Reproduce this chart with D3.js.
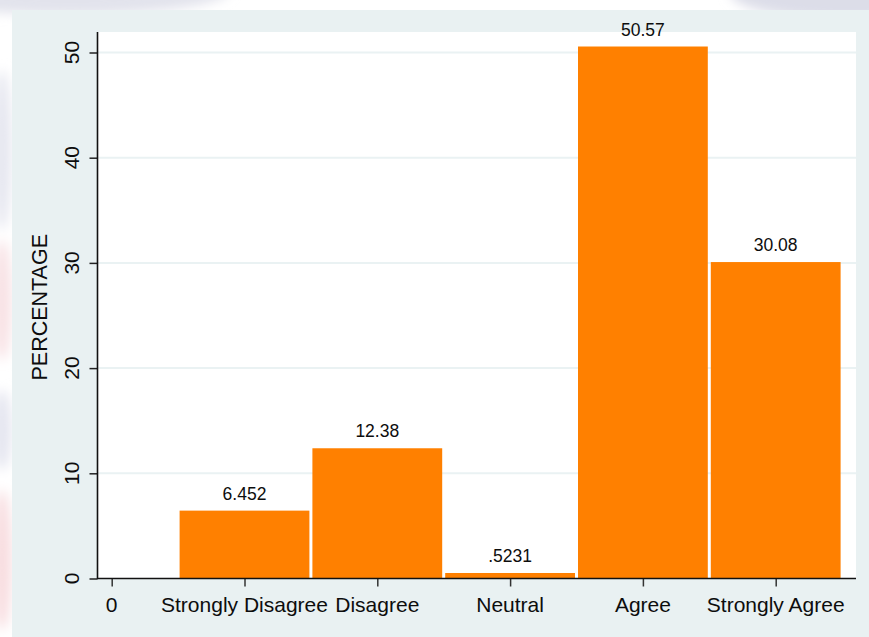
<!DOCTYPE html>
<html>
<head>
<meta charset="utf-8">
<script src="https://cdn.jsdelivr.net/npm/d3@7"></script>
<style>
  html, body { margin: 0; padding: 0; background: #ffffff; }
  svg { display: block; }
  text { font-family: "Liberation Sans", Arial, sans-serif; fill: #0d0d0d; }
</style>
</head>
<body>
<div id="chart"></div>
<script>
// ---- data ----
const categories = ["Strongly Disagree", "Disagree", "Neutral", "Agree", "Strongly Agree"];
const categoryCodes = [1, 2, 3, 4, 5];
const percentages = [6.452, 12.38, 0.5231, 50.57, 30.08];
const barLabels = ["6.452", "12.38", ".5231", "50.57", "30.08"];
const xTickValues = [0, 1, 2, 3, 4, 5];
const xTickLabels = ["0", "Strongly Disagree", "Disagree", "Neutral", "Agree", "Strongly Agree"];
const yTickValues = [0, 10, 20, 30, 40, 50];
const yTitle = "PERCENTAGE";

// ---- layout ----
const W = 869, H = 637;
const plot = { left: 98, right: 856, top: 32, bottom: 578.5 };

const svg = d3.select("#chart").append("svg").attr("width", W).attr("height", H);

const defs = svg.append("defs");
defs.append("filter").attr("id", "soft").attr("x", "-50%").attr("y", "-50%").attr("width", "200%").attr("height", "200%")
  .append("feGaussianBlur").attr("stdDeviation", 6);

// faint watermark in outer margins
const wm = svg.append("g").attr("filter", "url(#soft)");
wm.append("ellipse").attr("cx", 70).attr("cy", -10).attr("rx", 160).attr("ry", 25).attr("fill", "#e2e3ec");
wm.append("ellipse").attr("cx", 850).attr("cy", -8).attr("rx", 120).attr("ry", 28).attr("fill", "#dcdde8");
wm.append("ellipse").attr("cx", 2).attr("cy", 150).attr("rx", 10).attr("ry", 80).attr("fill", "#e6e7f0");
wm.append("ellipse").attr("cx", 2).attr("cy", 300).attr("rx", 10).attr("ry", 60).attr("fill", "#f8e2e5");
wm.append("ellipse").attr("cx", 2).attr("cy", 430).attr("rx", 10).attr("ry", 40).attr("fill", "#e5e6f0");
wm.append("ellipse").attr("cx", 2).attr("cy", 560).attr("rx", 10).attr("ry", 70).attr("fill", "#f8dde0");

// graph region
svg.append("rect").attr("x", 12).attr("y", 10).attr("width", W - 12).attr("height", H - 10).attr("fill", "#e9f1f2");
// plot region
svg.append("rect").attr("x", plot.left).attr("y", plot.top)
  .attr("width", plot.right - plot.left).attr("height", plot.bottom - plot.top).attr("fill", "#ffffff");

const x = d3.scaleLinear().domain([0, 5]).range([111.7, 775.7]);
const y = d3.scaleLinear().domain([0, 50]).range([plot.bottom, 52.5]);

// gridlines
svg.append("g").selectAll("line").data(yTickValues.filter(v => v > 0)).join("line")
  .attr("x1", plot.left).attr("x2", plot.right)
  .attr("y1", d => y(d)).attr("y2", d => y(d))
  .attr("stroke", "#eaf2f3").attr("stroke-width", 2);

// bars
const barData = categoryCodes.map((c, i) => ({ c, v: percentages[i], label: barLabels[i] }));
svg.append("g").selectAll("rect").data(barData).join("rect")
  .attr("x", d => x(d.c - 0.5) + 1.5)
  .attr("width", d => x(d.c + 0.5) - x(d.c - 0.5) - 3)
  .attr("y", d => y(d.v))
  .attr("height", d => y(0) - y(d.v))
  .attr("fill", "#ff8000");

// bar labels
svg.append("g").selectAll("text").data(barData).join("text")
  .attr("x", d => x(d.c))
  .attr("y", d => y(d.v) - 11)
  .attr("text-anchor", "middle")
  .attr("font-size", 17.5)
  .text(d => d.label);

// y axis
const yAxis = d3.axisLeft(y).tickValues(yTickValues).tickSize(8).tickFormat(d3.format("d"));
const gy = svg.append("g").attr("transform", `translate(${plot.left - 0.5},0)`).call(yAxis);
gy.select(".domain").remove();
gy.selectAll(".tick line").attr("stroke", "#222").attr("stroke-width", 1.5);
gy.selectAll(".tick text").remove();
svg.append("line").attr("x1", plot.left - 0.5).attr("x2", plot.left - 0.5)
  .attr("y1", plot.top).attr("y2", plot.bottom + 0.5).attr("stroke", "#111").attr("stroke-width", 1.6);
svg.append("g").selectAll("text").data(yTickValues).join("text")
  .attr("transform", d => `translate(79,${y(d)}) rotate(-90)`)
  .attr("text-anchor", "middle")
  .attr("font-size", 21)
  .text(d => d3.format("d")(d));

// x axis
const xAxis = d3.axisBottom(x).tickValues(xTickValues).tickSize(8).tickFormat((d, i) => xTickLabels[i]);
const gx = svg.append("g").attr("transform", `translate(0,${plot.bottom})`).call(xAxis);
gx.select(".domain").remove();
gx.selectAll(".tick line").attr("stroke", "#333").attr("stroke-width", 1.5);
gx.selectAll(".tick text").remove();
svg.append("line").attr("x1", plot.left - 1).attr("x2", plot.right)
  .attr("y1", plot.bottom).attr("y2", plot.bottom).attr("stroke", "#111").attr("stroke-width", 1.6);
svg.append("g").selectAll("text").data(xTickValues).join("text")
  .attr("x", d => x(d))
  .attr("y", 612)
  .attr("text-anchor", "middle")
  .attr("font-size", 21)
  .text((d, i) => xTickLabels[i]);

// y title
svg.append("text")
  .attr("transform", `translate(47,${(plot.top + plot.bottom) / 2 + 2}) rotate(-90)`)
  .attr("text-anchor", "middle")
  .attr("font-size", 21.5)
  .text(yTitle);
</script>
</body>
</html>
